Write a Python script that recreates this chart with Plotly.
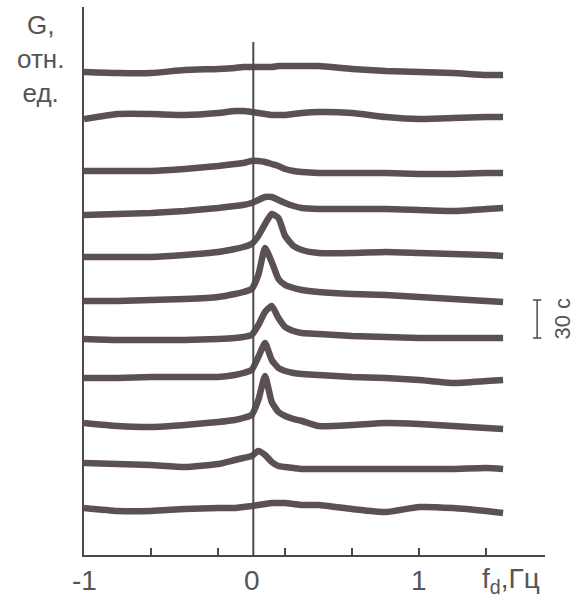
import plotly.graph_objects as go

# frequency grid (Hz)
freq = [-1, -0.8, -0.6, -0.4, -0.2, -0.1, -0.05, 0, 0.04, 0.08, 0.12, 0.16,
        0.2, 0.25, 0.3, 0.4, 0.6, 0.8, 1.0, 1.2, 1.4, 1.5]

# spectra G (relative units, stacked in time, top = first)
g01 = [483, 482, 482, 485, 486, 487, 488, 488, 488, 488, 488, 489, 489, 489, 489, 489, 486, 484, 483, 482, 480, 480]
g02 = [436, 441, 441, 440, 442, 444, 444, 443, 442, 441, 440, 440, 440, 441, 442, 443, 442, 438, 436, 437, 438, 438]
g03 = [384, 384, 384, 386, 389, 391, 392, 394, 394, 393, 391, 389, 386, 384, 383, 382, 382, 382, 381, 381, 382, 382]
g04 = [340, 341, 342, 344, 347, 349, 350, 352, 355, 358, 358, 355, 352, 349, 347, 346, 346, 346, 345, 344, 346, 347]
g05 = [298, 298, 298, 300, 303, 306, 308, 311, 319, 331, 341, 337, 319, 309, 305, 302, 302, 303, 302, 301, 300, 299]
g06 = [254, 254, 255, 256, 258, 261, 263, 266, 280, 307, 293, 276, 270, 267, 265, 263, 261, 260, 258, 256, 254, 253]
g07 = [216, 215, 215, 215, 216, 217, 218, 220, 230, 243, 249, 237, 228, 224, 222, 221, 219, 218, 217, 217, 217, 217]
g08 = [177, 177, 178, 178, 178, 180, 182, 185, 198, 212, 195, 187, 184, 182, 181, 180, 178, 177, 175, 172, 174, 175]
g09 = [132, 129, 128, 130, 133, 135, 137, 140, 155, 179, 153, 143, 139, 136, 134, 129, 130, 132, 131, 129, 127, 126]
g10 = [92, 91, 90, 88, 91, 95, 97, 99, 104, 100, 93, 89, 88, 87, 86, 86, 86, 86, 86, 86, 87, 86]
g11 = [47, 44, 44, 46, 47, 47, 48, 49, 50, 51, 52, 52, 52, 51, 50, 50, 46, 43, 48, 47, 44, 42]
spectra = [g01, g02, g03, g04, g05, g06, g07, g08, g09, g10, g11]

tick_vals = [-0.6, -0.2, 0.2, 0.6, 1.0, 1.4]
label_vals = [-1, 0, 1]
label_text = ["-1", "0", "1"]
axis_title = "f<sub>d</sub>,Гц"
y_title = "G,<br>отн.<br>ед."
scale_text = "30 с"
scale_bar = [217, 255]  # time scale bar extent in G-axis units
scale_x = 1.703

LINE = "#5a5055"
AX = "#4a4a4a"
TXT = "#555555"
FONT = "Liberation Sans, Arial, sans-serif"

fig = go.Figure()
for g in spectra:
    fig.add_trace(go.Scatter(x=freq, y=g, mode="lines",
                             line=dict(color=LINE, width=6.5, shape="spline", smoothing=0.5),
                             showlegend=False, hoverinfo="skip"))

# zero frequency line
fig.add_shape(type="line", xref="x", yref="y", x0=0.01, x1=0.01, y0=0, y1=513,
              line=dict(color=AX, width=2))

# time scale bar
fig.add_shape(type="line", xref="x", yref="y", x0=scale_x, x1=scale_x,
              y0=scale_bar[0], y1=scale_bar[1], line=dict(color=AX, width=1.5))
for yv in scale_bar:
    fig.add_shape(type="line", xref="x", yref="y", x0=scale_x - 0.025, x1=scale_x + 0.025,
                  y0=yv, y1=yv, line=dict(color=AX, width=1.5))

fig.add_annotation(x=1.036, xref="paper", y=sum(scale_bar) / 2, yref="y",
                   text=scale_text, textangle=-90, showarrow=False,
                   font=dict(family=FONT, size=22, color=TXT),
                   xanchor="center", yanchor="middle")

for v, t in zip(label_vals, label_text):
    fig.add_annotation(x=v, xref="x", y=-0.046, yref="paper", text=t,
                       showarrow=False, font=dict(family=FONT, size=28, color=TXT),
                       xanchor="center", yanchor="middle")
fig.add_annotation(x=1.55, xref="x", y=-0.046, yref="paper", text=axis_title,
                   showarrow=False, font=dict(family=FONT, size=28, color=TXT),
                   xanchor="center", yanchor="middle")
fig.add_annotation(x=-0.095, xref="paper", y=0.905, yref="paper", text=y_title,
                   showarrow=False, font=dict(family=FONT, size=26, color=TXT),
                   xanchor="center", yanchor="middle", align="center")

fig.update_layout(
    width=576, height=601,
    margin=dict(l=84, r=31, t=7, b=46),
    paper_bgcolor="white", plot_bgcolor="white",
    xaxis=dict(range=[-1, 1.75], showgrid=False, zeroline=False,
               showline=True, linecolor=AX, linewidth=2,
               tickvals=tick_vals, ticks="inside", ticklen=7, tickwidth=1.5,
               tickcolor=AX, showticklabels=False, fixedrange=True),
    yaxis=dict(range=[0, 548], showgrid=False, zeroline=False,
               showline=True, linecolor=AX, linewidth=2,
               showticklabels=False, ticks="", fixedrange=True),
)

fig.write_html("out.html")
